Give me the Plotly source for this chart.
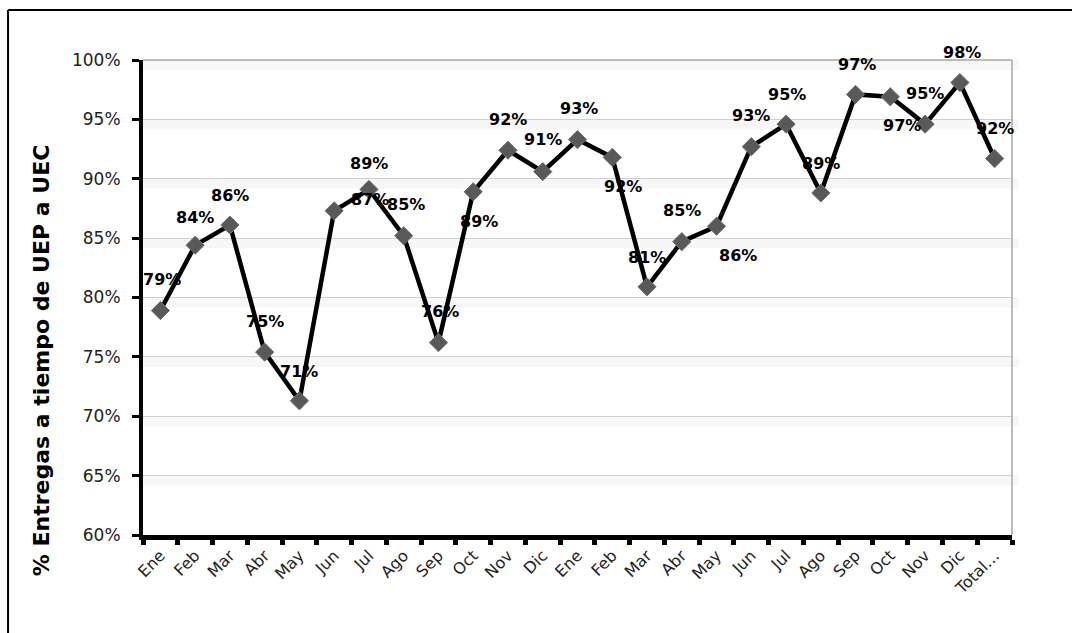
import plotly.graph_objects as go

# Monthly on-time delivery rate (UEP -> UEC), two years plus total
months = ["Ene", "Feb", "Mar", "Abr", "May", "Jun", "Jul", "Ago", "Sep", "Oct", "Nov", "Dic",
          "Ene", "Feb", "Mar", "Abr", "May", "Jun", "Jul", "Ago", "Sep", "Oct", "Nov", "Dic",
          "Total…"]
on_time_pct = [78.9, 84.4, 86.1, 75.4, 71.3, 87.3, 89.1, 85.2, 76.2, 88.9, 92.4, 90.6,
               93.3, 91.8, 80.9, 84.7, 86.0, 92.7, 94.6, 88.8, 97.1, 96.9, 94.6, 98.1,
               91.7]
y_ticks = [60, 65, 70, 75, 80, 85, 90, 95, 100]

# Pixel offsets (dx, dy; dy downwards) for each data label
label_offsets = [(2, -31), (0, -28), (0, -30), (0, -31), (0, -29), (36, -11), (0, -26),
                 (2, -31), (2, -31), (6, 30), (0, -31), (0, -32), (1, -31), (11, 29),
                 (0, -29), (0, -31), (21, 29), (0, -31), (1, -30), (0, -30), (1, -30),
                 (12, 29), (0, -31), (2, -30), (0, -30)]

FONT = "DejaVu Sans"
x_idx = list(range(len(months)))

fig = go.Figure()
fig.add_trace(go.Scatter(
    x=x_idx, y=on_time_pct, mode="lines+markers",
    line=dict(color="black", width=4.5),
    marker=dict(symbol="diamond", size=14, color="#595959",
                line=dict(color="#6f6f6f", width=1)),
    hoverinfo="skip", showlegend=False,
))

annotations = []
for xi, v, (dx, dy) in zip(x_idx, on_time_pct, label_offsets):
    annotations.append(dict(
        x=xi, y=v, xref="x", yref="y", text=f"<b>{round(v)}%</b>",
        showarrow=False, xshift=dx, yshift=-dy,
        font=dict(family=FONT, size=16, color="black"),
    ))

annotations.append(dict(
    x=-0.1174, y=0.368, xref="paper", yref="paper", textangle=-90,
    text="<b>% Entregas a tiempo de UEP a UEC</b>", showarrow=False,
    xanchor="center", yanchor="middle",
    font=dict(family=FONT, size=22, color="black"),
))

# Soft shading just under each gridline and the plot-area frame
shapes = []
for t in y_ticks[1:]:
    shapes.append(dict(type="rect", xref="paper", yref="y", x0=0, x1=1.008,
                       y0=t - 0.85, y1=t, fillcolor="rgba(0,0,0,0.03)",
                       line=dict(width=0), layer="below"))
shapes.append(dict(type="line", xref="paper", yref="paper", x0=1, x1=1, y0=0, y1=1,
                   line=dict(color="#a6a6a6", width=1.5)))
shapes.append(dict(type="line", xref="paper", yref="paper", x0=0, x1=1, y0=1, y1=1,
                   line=dict(color="#a6a6a6", width=1.5)))
# Outer chart border (top and left)
shapes.append(dict(type="line", xref="paper", yref="paper",
                   x0=-0.1553, x1=1.08, y0=1.1053, y1=1.1053,
                   line=dict(color="black", width=2)))
shapes.append(dict(type="line", xref="paper", yref="paper",
                   x0=-0.1553, x1=-0.1553, y0=1.1053, y1=-0.22,
                   line=dict(color="black", width=2)))

fig.update_layout(
    width=1072, height=633,
    margin=dict(l=143, r=60, t=60, b=98),
    paper_bgcolor="white", plot_bgcolor="white",
    font=dict(family=FONT, color="black"),
    annotations=annotations, shapes=shapes,
    xaxis=dict(
        range=[-0.5, len(months) - 0.5],
        tickmode="array", tickvals=x_idx, ticktext=months,
        tickangle=-45, ticks="", ticklen=0,
        tickfont=dict(family=FONT, size=16, color="#222"),
        showgrid=False, zeroline=False,
        showline=True, linecolor="black", linewidth=5,
        minor=dict(tickmode="array",
                   tickvals=[i - 0.5 for i in range(len(months) + 1)],
                   ticks="outside", ticklen=5, tickwidth=5, tickcolor="black",
                   showgrid=False),
    ),
    yaxis=dict(
        range=[60, 100], tickmode="array", tickvals=y_ticks,
        ticktext=[f"{t}%" for t in y_ticks],
        ticks="outside", ticklen=7, tickwidth=3, tickcolor="black",
        ticklabelstandoff=8,
        tickfont=dict(family=FONT, size=17, color="#222"),
        showgrid=True, gridcolor="#cfcfcf", gridwidth=1,
        zeroline=False,
        showline=True, linecolor="black", linewidth=4,
    ),
)

fig.write_html("out.html")
